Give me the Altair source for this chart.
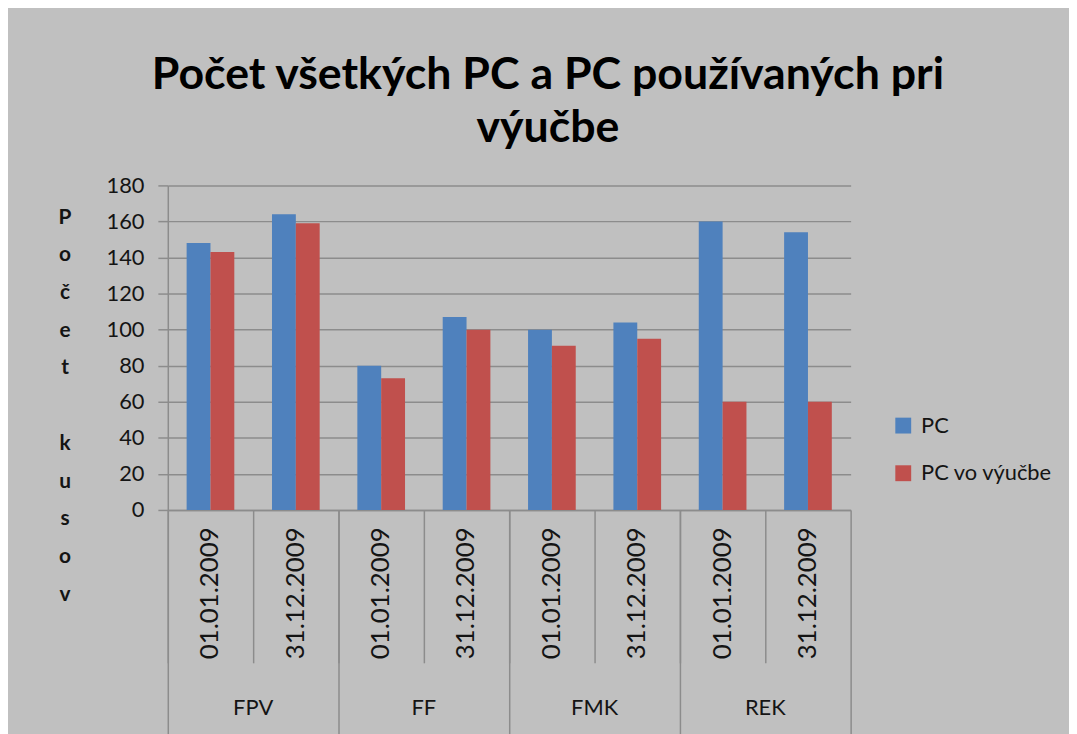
import altair as alt
import pandas as pd

groups = ["FPV", "FF", "FMK", "REK"]
dates = ["01.01.2009", "31.12.2009"]
series = ["PC", "PC vo výučbe"]
pc_values = [148, 164, 80, 107, 100, 104, 160, 154]
pc_teaching_values = [143, 159, 73, 100, 91, 95, 60, 60]
y_ticks = [0, 20, 40, 60, 80, 100, 120, 140, 160, 180]
y_title = ["P", "o", "č", "e", "t", "\u2800", "k", "u", "s", "o", "v"]
title_lines = ["Počet všetkých PC a PC používaných pri", "výučbe"]

keys = [g + "|" + d for g in groups for d in dates]
rows = []
for i, k in enumerate(keys):
    rows.append({"key": k, "series": series[0], "value": pc_values[i]})
    rows.append({"key": k, "series": series[1], "value": pc_teaching_values[i]})
df = pd.DataFrame(rows)
df_keys = pd.DataFrame({"key": keys})

first_keys = [g + "|" + dates[0] for g in groups]
last_key = [keys[-1]]

GRID = "#8c8c8c"
TXT = "#141414"
FONT = "Lato"

xscale = alt.Scale(paddingInner=0, paddingOuter=0)

bars = alt.Chart(df).mark_bar().encode(
    x=alt.X("key:N", sort=keys, scale=xscale,
            axis=alt.Axis(orient="bottom", title=None,
                          labelExpr="split(datum.label, '|')[1]",
                          labelAngle=270, labelFontSize=26, labelFont=FONT,
                          labelColor=TXT, ticks=False, labelPadding=17,
                          domainColor=GRID, domainWidth=1.5,
                          labelOverlap=False)),
    xOffset=alt.XOffset("series:N", sort=series,
                        scale=alt.Scale(paddingOuter=0.79, paddingInner=0)),
    y=alt.Y("value:Q", scale=alt.Scale(domain=[0, 180]),
            axis=alt.Axis(values=y_ticks, title=y_title, titleAngle=0,
                          titleAlign="center", titleBaseline="alphabetic",
                          titleX=-104, titleY=38, titleLineHeight=38,
                          titleFontWeight="bold", titleFontSize=21,
                          titleFont=FONT, titleColor=TXT,
                          labelFontSize=22, labelFont=FONT, labelColor=TXT,
                          labelPadding=14, tickSize=10, tickColor=GRID,
                          tickWidth=1.5, domainColor=GRID, domainWidth=1.5,
                          gridColor=GRID, gridWidth=1.5)),
    color=alt.Color("series:N", sort=series,
                    scale=alt.Scale(domain=series, range=["#4f81bd", "#c0504d"]),
                    legend=alt.Legend(orient="none", legendX=730, legendY=231,
                                      title=None, symbolType="square",
                                      symbolSize=256, symbolStrokeWidth=0,
                                      labelFontSize=22, labelFont=FONT,
                                      labelColor=TXT, rowPadding=26,
                                      labelOffset=7, padding=0)),
)

date_seps = alt.Chart(df_keys).mark_point(opacity=0).encode(
    x=alt.X("key:N", sort=keys,
            axis=alt.Axis(orient="bottom", title=None, labels=False,
                          domain=False, ticks=True, tickSize=154,
                          bandPosition=0, tickColor=GRID, tickWidth=1.5))
)

group_seps = alt.Chart(df_keys).mark_point(opacity=0).encode(
    x=alt.X("key:N", sort=keys,
            axis=alt.Axis(orient="bottom", title=None, labels=False,
                          domain=False, ticks=True, tickSize=240,
                          values=first_keys, bandPosition=0,
                          tickColor=GRID, tickWidth=1.5))
)

end_sep = alt.Chart(df_keys).mark_point(opacity=0).encode(
    x=alt.X("key:N", sort=keys,
            axis=alt.Axis(orient="bottom", title=None, labels=False,
                          domain=False, ticks=True, tickSize=240,
                          values=last_key, bandPosition=1,
                          tickColor=GRID, tickWidth=1.5))
)

group_labels = alt.Chart(df_keys).mark_point(opacity=0).encode(
    x=alt.X("key:N", sort=keys,
            axis=alt.Axis(orient="bottom", title=None, ticks=False,
                          domain=False, values=first_keys,
                          labelExpr="split(datum.label, '|')[0]",
                          labelAngle=0, labelOffset=43, labelPadding=189,
                          labelFontSize=22, labelFont=FONT, labelColor=TXT,
                          labelOverlap=False))
)

chart = alt.layer(bars, date_seps, group_seps, end_sep, group_labels).resolve_axis(
    x="independent"
).properties(
    width=688,
    height=327,
    autosize=alt.AutoSizeParams(type="none"),
    padding={"left": 161, "top": 176, "right": 220, "bottom": 223},
    title=alt.TitleParams(text=title_lines, fontSize=45, font=FONT,
                          fontWeight="bold", lineHeight=53, anchor="middle",
                          frame="group", dx=39, offset=24, color="#000000"),
).configure(
    background="#c0c0c0",
    font=FONT,
).configure_view(stroke=None)

chart.save("out.html", embed_options={"renderer": "svg", "actions": False})
